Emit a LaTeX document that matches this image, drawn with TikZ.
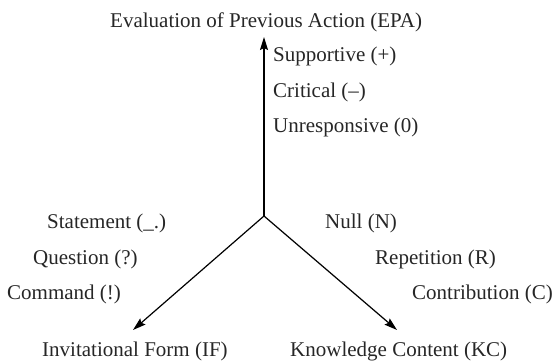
\documentclass[tikz,border=0pt]{standalone}
\usepackage{fontspec}
\setmainfont{Liberation Serif}
\usetikzlibrary{arrows.meta}
\begin{document}
\begin{tikzpicture}[x=1pt,y=-1pt,
  lbl/.style={inner sep=0pt,font=\fontsize{21}{24}\selectfont,text=black!85},
  axis/.style={line width=1.2pt,-{Stealth[length=13pt,width=8pt,inset=2pt]}}]
\useasboundingbox (0,0) rectangle (556,361);
\coordinate (o) at (264,216);
\coordinate (top) at (264,37);
\coordinate (lt) at (133,330);
\coordinate (rt) at (397,330);
\draw[axis] (o) -- (top);
\draw[axis] (o) -- (lt);
\draw[axis] (o) -- (rt);
\node[lbl,anchor=base west] (epa) at (110,28) {Evaluation of Previous Action (EPA)};
\node[lbl,anchor=base west] (sup) at (273,62) {Supportive (+)};
\node[lbl,anchor=base west] (cri) at (273,97) {Critical (–)};
\node[lbl,anchor=base west] (unr) at (273,132) {Unresponsive (0)};
\node[lbl,anchor=base west] (sta) at (47,228) {Statement (\_.)};
\node[lbl,anchor=base west] (que) at (33,264) {Question (?)};
\node[lbl,anchor=base west] (com) at (7,299) {Command (!)};
\node[lbl,anchor=base west] (inv) at (42,356) {Invitational Form (IF)};
\node[lbl,anchor=base west] (nul) at (325,228) {Null (N)};
\node[lbl,anchor=base west] (rep) at (375,264) {Repetition (R)};
\node[lbl,anchor=base west] (con) at (412,299) {Contribution (C)};
\node[lbl,anchor=base west] (kc) at (290,356) {Knowledge Content (KC)};
\end{tikzpicture}
\end{document}
